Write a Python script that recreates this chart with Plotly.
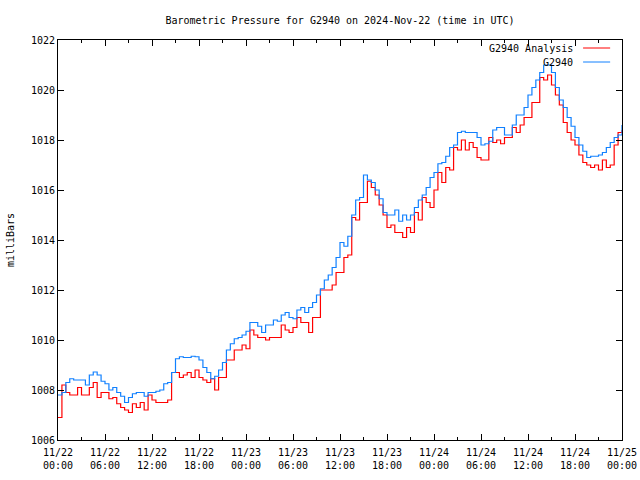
import plotly.graph_objects as go

# time axis: hours after 2024-11-22 00:00 UTC, half-hour steps
hours = [i * 0.5 for i in range(145)]

# G2940 observed pressure (mb), every 30 min
g2940 = [
    1007.8, 1007.9, 1008.3, 1008.45, 1008.4, 1008.4, 1008.4, 1008.2, 1008.6, 1008.72,
    1008.6, 1008.35, 1008.25, 1008.0, 1008.1, 1007.9, 1007.75, 1007.5, 1007.7, 1007.85,
    1007.9, 1007.9, 1007.75, 1007.9, 1007.9, 1007.95, 1008.0, 1008.25, 1008.3, 1008.7,
    1009.25, 1009.33, 1009.3, 1009.3, 1009.35, 1009.33, 1009.2, 1008.9, 1008.7, 1008.45,
    1008.55, 1008.8, 1009.1, 1009.6, 1009.85, 1010.05, 1010.1, 1010.2, 1010.35, 1010.7,
    1010.7, 1010.55, 1010.3, 1010.6, 1010.6, 1010.8, 1010.75, 1011.0, 1011.1, 1010.9,
    1010.85, 1011.2, 1011.3, 1011.1, 1011.3, 1011.5, 1011.8, 1012.05, 1012.4, 1012.6,
    1012.9, 1013.3, 1013.9, 1013.75, 1014.15, 1015.0, 1015.6, 1015.7, 1016.6, 1016.4,
    1016.3, 1016.0, 1015.65, 1015.1, 1015.0, 1015.0, 1015.2, 1014.75, 1015.0, 1014.8,
    1015.0, 1015.3, 1015.6, 1015.8, 1016.1, 1016.5, 1016.7, 1017.05, 1017.1, 1017.35,
    1017.7, 1017.8, 1018.3, 1018.35, 1018.3, 1018.3, 1018.3, 1018.1, 1017.8, 1017.85,
    1017.95, 1018.4, 1018.5, 1018.5, 1018.2, 1018.2, 1018.6, 1019.0, 1019.0, 1019.3,
    1019.8, 1020.1, 1020.4, 1020.7, 1021.0, 1021.0, 1020.7, 1020.1, 1019.6, 1019.3,
    1018.9, 1018.55, 1018.1, 1017.8, 1017.55, 1017.3, 1017.35, 1017.35, 1017.4, 1017.5,
    1017.7, 1017.9, 1018.1, 1018.2, 1018.6,
]

# G2940 analysis pressure (mb), every 30 min
analysis = [
    1006.9, 1008.2, 1007.9, 1007.8, 1007.8, 1008.1, 1007.8, 1007.8, 1008.1, 1008.3,
    1007.7, 1007.9, 1007.9, 1007.65, 1007.7, 1007.45, 1007.3, 1007.2, 1007.1, 1007.45,
    1007.3, 1007.5, 1007.2, 1007.8, 1007.6, 1007.5, 1007.5, 1007.5, 1007.6, 1008.7,
    1008.7, 1008.5, 1008.6, 1008.7, 1008.5, 1008.8, 1008.5, 1008.4, 1008.3, 1008.45,
    1008.0, 1008.5, 1008.5, 1009.2, 1009.2, 1009.6, 1009.6, 1009.8, 1009.65, 1010.4,
    1010.2, 1010.1, 1010.1, 1010.0, 1010.1, 1010.1, 1010.1, 1010.6, 1010.4, 1010.3,
    1010.5, 1010.9, 1010.7, 1010.7, 1010.3, 1010.9, 1010.9, 1012.0, 1012.0, 1012.0,
    1012.2, 1012.7, 1012.7, 1013.3, 1013.4, 1014.9, 1014.8, 1015.5, 1015.5, 1016.35,
    1016.1, 1015.8, 1015.4, 1015.0, 1014.5, 1014.6, 1014.3, 1014.3, 1014.1, 1014.5,
    1014.3, 1015.1, 1014.8, 1015.7, 1015.5, 1015.3, 1016.0, 1016.7, 1016.3, 1016.9,
    1016.8, 1017.7, 1017.6, 1018.0, 1017.6, 1017.9, 1017.7, 1017.3, 1017.2, 1017.2,
    1018.1, 1017.9, 1018.0, 1017.85, 1018.1, 1018.1, 1018.5, 1018.3, 1018.6, 1018.9,
    1018.9, 1019.5, 1019.5, 1020.5, 1020.4, 1020.6, 1020.2, 1019.8, 1019.4, 1018.7,
    1018.3, 1018.0, 1017.8, 1017.4, 1017.1, 1017.0, 1016.9, 1017.0, 1016.8, 1017.2,
    1016.9, 1017.0, 1017.8, 1018.3, 1018.4,
]

tick_hours = [0, 6, 12, 18, 24, 30, 36, 42, 48, 54, 60, 66, 72]
tick_labels = [
    "11/22<br>00:00", "11/22<br>06:00", "11/22<br>12:00", "11/22<br>18:00",
    "11/23<br>00:00", "11/23<br>06:00", "11/23<br>12:00", "11/23<br>18:00",
    "11/24<br>00:00", "11/24<br>06:00", "11/24<br>12:00", "11/24<br>18:00",
    "11/25<br>00:00",
]
y_ticks = [1006, 1008, 1010, 1012, 1014, 1016, 1018, 1020, 1022]
series_names = ["G2940 Analysis", "G2940"]
series_colors = ["#ff0000", "#1080ff"]

FONT = "DejaVu Sans Mono"

fig = go.Figure()
fig.add_trace(go.Scatter(x=hours, y=analysis, mode="lines", line=dict(color=series_colors[0], width=1.2, shape="hv"),
                         name=series_names[0], showlegend=False))
fig.add_trace(go.Scatter(x=hours, y=g2940, mode="lines", line=dict(color=series_colors[1], width=1.2, shape="hv"),
                         name=series_names[1], showlegend=False))

# legend drawn gnuplot-style: text then sample line on the right
leg_y = [0.98, 0.945]
for name, col, ly in zip(series_names, series_colors, leg_y):
    fig.add_annotation(x=0.9167, y=ly, xref="paper", yref="paper", text=name, showarrow=False,
                       xanchor="right", yanchor="middle", font=dict(family=FONT, size=10, color="black"))
    fig.add_shape(type="line", xref="paper", yref="paper", x0=0.931, x1=0.979, y0=ly, y1=ly,
                  line=dict(color=col, width=1))

fig.add_annotation(x=-0.085, y=0.5, xref="paper", yref="paper", text="milliBars", textangle=-90,
                   showarrow=False, xanchor="center", yanchor="middle",
                   font=dict(family=FONT, size=10, color="black"))

fig.update_layout(
    width=640, height=480,
    margin=dict(l=58, r=18, t=40, b=40, autoexpand=False),
    paper_bgcolor="white", plot_bgcolor="white",
    font=dict(family=FONT, size=10, color="black"),
    title=dict(text="Barometric Pressure for G2940 on 2024-Nov-22 (time in UTC)", xref="paper", x=0.5,
               xanchor="center", y=0.958, yanchor="middle", font=dict(family=FONT, size=10, color="black")),
    showlegend=False,
)
fig.update_xaxes(range=[0, 72], tickmode="array", tickvals=tick_hours, ticktext=tick_labels,
                 ticks="inside", ticklen=6, tickcolor="black", showgrid=False, zeroline=False,
                 showline=True, linecolor="black", linewidth=1, mirror="ticks", automargin=False,
                 ticklabelstandoff=3,
                 minor=dict(ticks="inside", ticklen=3, dtick=3, tick0=0, tickcolor="black", showgrid=False),
                 tickfont=dict(family=FONT, size=10, color="black"))
fig.update_yaxes(range=[1006, 1022], tickmode="array", tickvals=y_ticks, ticktext=[str(v) for v in y_ticks],
                 ticks="inside", ticklen=6, tickcolor="black", showgrid=False, zeroline=False,
                 showline=True, linecolor="black", linewidth=1, mirror="ticks", automargin=False,
                 tickfont=dict(family=FONT, size=10, color="black"))

# remove the default 8px page margin so the figure sits at the window's top-left corner
fig.write_html("out.html", config={"displayModeBar": False},
               post_script="document.body.style.margin='0px';")
